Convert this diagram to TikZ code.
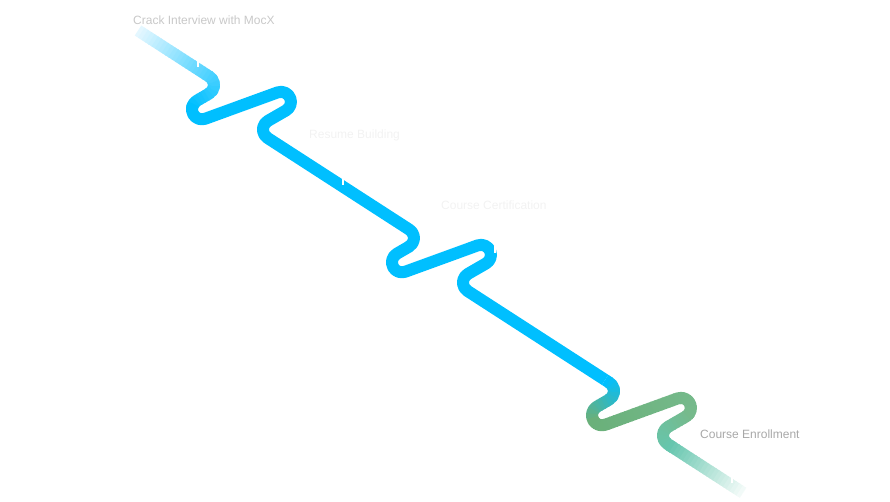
\documentclass[tikz,border=0pt]{standalone}
\usepackage{fontspec}
\setmainfont{Liberation Sans}

\definecolor{roadblue}{RGB}{0,191,255}
\definecolor{roadfade}{RGB}{228,247,255}
\definecolor{roadgreen}{RGB}{106,176,122}
\definecolor{roadlight}{RGB}{118,186,140}
\definecolor{roadteal}{RGB}{102,198,174}
\definecolor{labelgray}{RGB}{200,200,200}
\definecolor{labelpale}{RGB}{242,242,242}
\definecolor{labeldark}{RGB}{168,168,168}

% one S-shaped wiggle of the road
\def\wiggle{arc[start angle=57.13, end angle=-60, radius=10]
  -- ++(-150:13.9) arc[start angle=120, end angle=290, radius=10]
  -- ++(20:76.8) arc[start angle=110, end angle=-60, radius=10]
  -- ++(-150:20.8) arc[start angle=120, end angle=237.13, radius=10]}
\def\roadpath{(138,-30.5) -- ++(-32.87:85) \wiggle
  -- ++(-32.87:168.95) \wiggle
  -- ++(-32.87:168.95) \wiggle
  -- ++(-32.87:90)}

\begin{document}
\begin{tikzpicture}[x=1pt,y=1pt,
  road/.style={line width=12pt, line join=round},
  milestone/.style={anchor=base west, inner sep=0pt, font=\fontsize{12}{14}\selectfont},
  tick/.style={draw=white, line width=1.2pt}]
	\useasboundingbox (0,0) rectangle (890,-501);

	% blue middle part of the road
	\draw[road, draw=roadblue, dash pattern=on 715pt off 3000pt, dash phase=3590pt] \roadpath;
	% coloured pieces: fade in, blue to green, fade out
	\foreach \sa/\sb/\ca/\cb in {0/125/roadfade/roadblue, 840/895/roadblue/roadgreen,
	    895/1010/roadgreen/roadlight, 1010/1058/roadlight/roadteal, 1058/1150/roadteal/white}{
		\pgfmathtruncatemacro\n{(\sb-\sa)/4}
		\foreach \k in {0,...,\n}{
			\pgfmathsetmacro\p{100*\k/\n}
			\pgfmathsetmacro\ph{3005-\sa-4*\k}
			\draw[road, draw=\cb!\p!\ca, dash pattern=on 5pt off 3000pt, dash phase=\ph pt] \roadpath;
		}
	}

	% small marks on the road
	\coordinate (m1) at (198,-60);
	\coordinate (m2) at (343,-178);
	\coordinate (m3) at (495,-246);
	\coordinate (m4) at (732,-476);
	\foreach \m in {m1,m2,m3,m4}
		\draw[tick] (\m) -- ++(0,-7);

	\node[milestone, text=labelgray] (crack) at (133,-24) {Crack Interview with MocX};
	\node[milestone, text=labelpale] (resume) at (309,-138) {Resume Building};
	\node[milestone, text=labelpale] (cert) at (441,-209) {Course Certification};
	\node[milestone, text=labeldark] (enrol) at (700,-438) {Course Enrollment};
\end{tikzpicture}
\end{document}
